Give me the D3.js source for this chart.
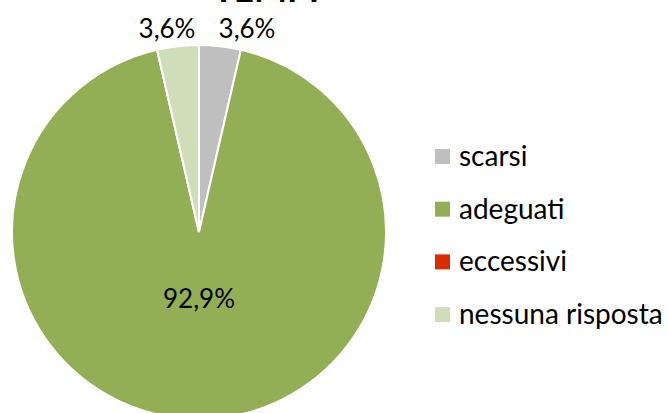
<!DOCTYPE html>
<html>
<head>
<meta charset="utf-8">
<script src="https://cdn.jsdelivr.net/npm/d3@7"></script>
<style>
  body { margin: 0; background: #fff; }
  svg { display: block; font-family: Lato, "Open Sans", sans-serif; }
</style>
</head>
<body>
<svg id="svg" width="668" height="413"></svg>
<script>
// data
const categories = ['scarsi', 'adeguati', 'eccessivi', 'nessuna risposta'];
const values = [3.6, 92.9, 0, 3.6];
const labels = ['3,6%', '92,9%', '', '3,6%'];
const colors = ['#BFBFBF', '#93AF55', '#D92D00', '#CFDDB9'];

const width = 668, height = 413;
const cx = 199, cy = 232, radius = 187;

const svg = d3.select('#svg');

// title, almost fully off the top edge like the original
svg.append('text')
  .attr('x', 266)
  .attr('y', 1.5)
  .attr('text-anchor', 'middle')
  .style('font-size', '35px')
  .style('font-weight', 'bold')
  .text('TEMPI');

const pie = d3.pie().sort(null).value(d => d)(values);
const arc = d3.arc().innerRadius(0).outerRadius(radius);

const g = svg.append('g').attr('transform', `translate(${cx},${cy})`);

g.selectAll('path')
  .data(pie)
  .enter()
  .append('path')
  .attr('d', arc)
  .attr('fill', (d, i) => colors[i])
  .attr('stroke', '#fff')
  .attr('stroke-width', 2);

// labels: small slices outside, big one inside
const outerArc = d3.arc().innerRadius(radius + 17).outerRadius(radius + 17);
const innerArc = d3.arc().innerRadius(radius * 0.36).outerRadius(radius * 0.36);

g.selectAll('text.lbl')
  .data(pie.filter(d => d.value > 0))
  .enter()
  .append('text')
  .attr('class', 'lbl')
  .attr('text-anchor', 'middle')
  .style('font-size', '26px')
  .attr('transform', d => {
    const big = d.value > 50;
    const c = big ? innerArc.centroid(d) : outerArc.centroid(d);
    let x = c[0], y = c[1];
    if (!big) x = x < 0 ? x - 9 : x + 25;
    return `translate(${x},${y})`;
  })
  .attr('dy', '0.35em')
  .text(d => labels[d.index]);

// legend
const legend = svg.append('g').attr('transform', 'translate(435,149)');
const row = legend.selectAll('g')
  .data(categories)
  .enter()
  .append('g')
  .attr('transform', (d, i) => `translate(0,${i * 52.7})`);

row.append('rect')
  .attr('width', 15)
  .attr('height', 15)
  .attr('fill', (d, i) => colors[i]);

row.append('text')
  .attr('x', 24)
  .attr('y', 7)
  .attr('dy', '0.35em')
  .style('font-size', '28px')
  .text(d => d);
</script>
</body>
</html>
